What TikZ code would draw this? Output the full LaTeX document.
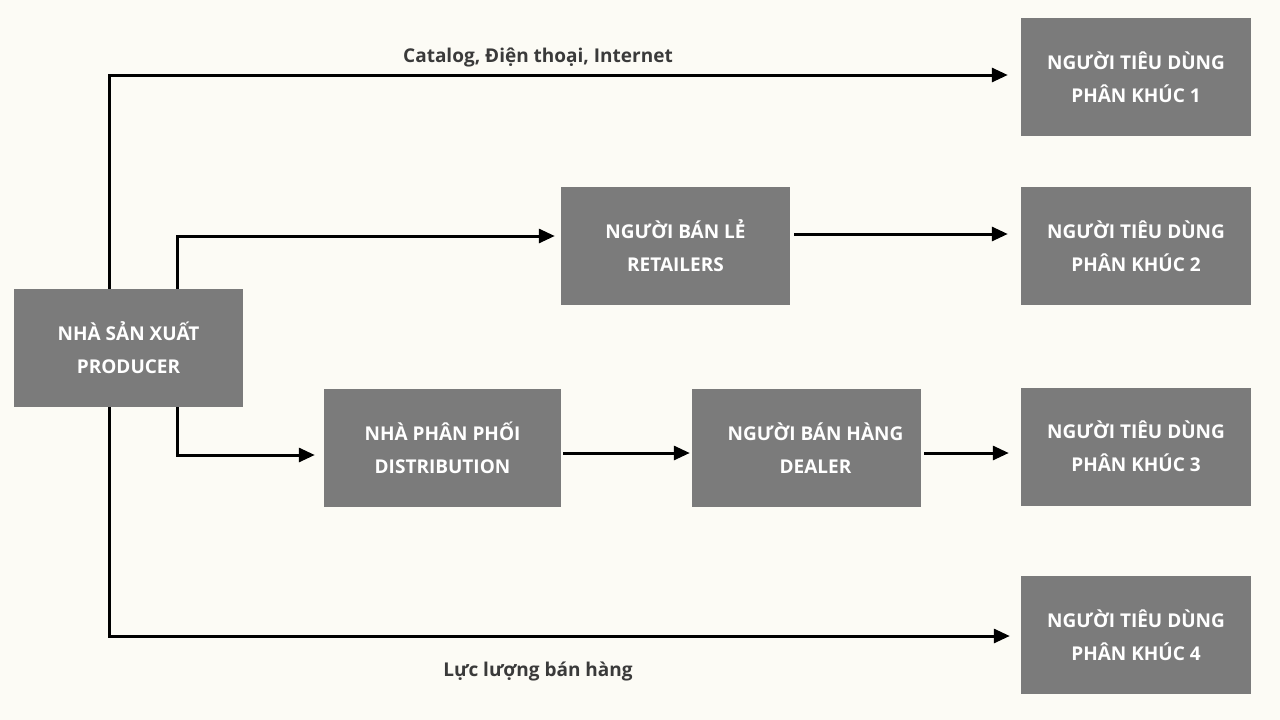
\documentclass[tikz,border=0pt]{standalone}
\usepackage{fontspec}
\setmainfont{Open Sans}
\usetikzlibrary{arrows.meta,calc}
\definecolor{bg}{HTML}{FCFBF5}
\definecolor{boxgray}{HTML}{7B7B7B}
\definecolor{labelgray}{HTML}{3A3A3A}
\begin{document}
\begin{tikzpicture}[x=1pt,y=-1pt,
  box/.style={fill=boxgray, draw=none, text=white, align=center,
    font=\bfseries\fontsize{19}{33}\selectfont, inner sep=0pt},
  wbox/.style={box, minimum width=229pt, minimum height=118pt},
  conn/.style={line width=3pt, -{Triangle[length=16pt,width=14pt]}},
  lbl/.style={text=labelgray, font=\bfseries\fontsize{19}{22}\selectfont, inner sep=0pt}]
\fill[bg] (0,0) rectangle (1280,720);
\useasboundingbox (0,0) rectangle (1280,720);

\node[wbox] (prod) at (128.5,348) {NHÀ SẢN XUẤT\\PRODUCER};
\node[wbox] (retail) at (675.5,246) {NGƯỜI BÁN LẺ\\RETAILERS};
\node[wbox, minimum width=237pt] (dist) at (442.5,448) {NHÀ PHÂN PHỐI\\DISTRIBUTION};
\node[wbox] (dealer) at (806.5,448) {\hspace*{18pt}NGƯỜI BÁN HÀNG\\\hspace*{18pt}DEALER};
\node[wbox, minimum width=230pt] (c1) at (1136,77) {NGƯỜI TIÊU DÙNG\\PHÂN KHÚC 1};
\node[wbox, minimum width=230pt] (c2) at (1136,246) {NGƯỜI TIÊU DÙNG\\PHÂN KHÚC 2};
\node[wbox, minimum width=230pt] (c3) at (1136,446.5) {NGƯỜI TIÊU DÙNG\\PHÂN KHÚC 3};
\node[wbox, minimum width=230pt] (c4) at (1136,635) {NGƯỜI TIÊU DÙNG\\PHÂN KHÚC 4};

\coordinate (ptopL) at ($(prod.north west)+(96,0)$);
\coordinate (ptopR) at ($(prod.north west)+(164,0)$);
\coordinate (pbotL) at ($(prod.south west)+(96,0)$);
\coordinate (pbotR) at ($(prod.south west)+(164,0)$);

\draw[conn, shorten >=13pt] (ptopL) |- ([yshift=2pt]c1.west);
\draw[conn, shorten >=6pt] (ptopR) |- ([yshift=10pt]retail.west);
\draw[conn, shorten <=4pt, shorten >=13pt] ([yshift=12pt]retail.east) -- ([yshift=12pt]retail.east -| c2.west);
\draw[conn, shorten >=9pt] (pbotR) |- ([yshift=-7pt]dist.west);
\draw[conn, shorten <=2pt, shorten >=2pt] ([yshift=-5pt]dist.east) -- ([yshift=-5pt]dist.east -| dealer.west);
\draw[conn, shorten <=3pt, shorten >=12pt] ([yshift=-5pt]dealer.east) -- ([yshift=-5pt]dealer.east -| c3.west);
\draw[conn, shorten >=11pt] (pbotL) |- ([yshift=-1pt]c4.west);

\node[lbl] (l1) at (538,58) {Catalog, Điện thoại, Internet};
\node[lbl] (l2) at (538,671) {Lực lượng bán hàng};
\end{tikzpicture}
\end{document}
